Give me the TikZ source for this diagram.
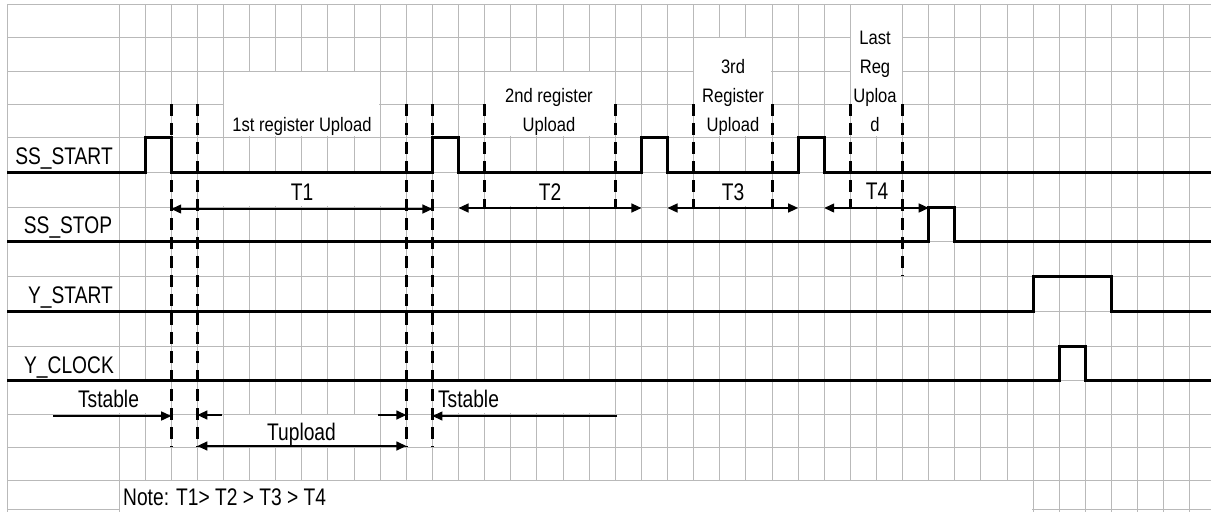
\documentclass[tikz,border=0pt]{standalone}
\usepackage{fontspec}
\usetikzlibrary{arrows.meta}
\newfontfamily\bigf{Liberation Sans}[FakeStretch=0.8]
\newfontfamily\smallf{Liberation Sans}[FakeStretch=0.85]
\definecolor{gridc}{RGB}{185,185,185}
\begin{document}
\begin{tikzpicture}[x=1pt,y=-1pt,
  gridline/.style={draw=gridc,line width=1pt},
  mask/.style={fill=white,draw=none},
  sig/.style={draw=black,line width=3pt,line join=miter,line cap=butt},
  dash3/.style={draw=black,line width=3pt,dash pattern=on 12pt off 7pt},
  dim/.style={draw=black,line width=1.4pt,-{Triangle[length=10pt,width=9pt]}},
  dimboth/.style={draw=black,line width=1.4pt,{Triangle[length=10pt,width=9pt]}-{Triangle[length=10pt,width=9pt]}},
  lab/.style={font=\bigf\fontsize{24}{28}\selectfont,inner sep=0pt,anchor=base},
  small/.style={font=\smallf\fontsize{19.5}{29}\selectfont,inner sep=0pt,anchor=base,align=center}]
\useasboundingbox[fill=white] (0,0) rectangle (1211,512);
% ---------- grid ----------
\foreach \y in {4,37,71,104,137,172,207,241,276,311,346,380,414,447,480,509}
  \draw[gridline] (7,\y) -- (1211,\y);
\draw[gridline] (7,4) -- (7,512);
\draw[gridline] (119,4) -- (119,512);
\foreach \k in {1,...,41}
  \draw[gridline] ({119+26.12*\k},4) -- ({119+26.12*\k},480);
\foreach \k in {35,...,41}
  \draw[gridline] ({119+26.12*\k},480) -- ({119+26.12*\k},512);
% ---------- merged cells ----------
\fill[mask] (224.3,71.8) rectangle (379.4,136.2);
\fill[mask] (485.5,71.8) rectangle (614.5,136.2);
\fill[mask] (694.4,37.8) rectangle (771.2,136.2);
\fill[mask] (851.2,4.8) rectangle (901.8,136.2);
\fill[mask] (198.2,172.8) rectangle (405.5,206.2);
\fill[mask] (485.5,172.8) rectangle (614.5,206.2);
\fill[mask] (694.4,172.8) rectangle (771.2,206.2);
\fill[mask] (851.2,172.8) rectangle (901.8,206.2);
\fill[mask] (7.8,380.8) rectangle (170.4,413.2);
\fill[mask] (224.3,414.8) rectangle (379.4,446.2);
\fill[mask] (433.3,380.8) rectangle (614.5,413.2);
\fill[mask] (119.8,480.8) rectangle (1032.4,512);
\fill[mask] (7.8,480.8) rectangle (118.2,508.2);
% ---------- labels ----------
\node[lab] (lss) at (64,164) {SS\_START};
\node[lab] (lsp) at (68,233) {SS\_STOP};
\node[lab] (lys) at (70.5,303) {Y\_START};
\node[lab] (lyc) at (69,373) {Y\_CLOCK};
\node[small] (u1) at (302,131) {1st register Upload};
\node[small] (u2) at (549,131) {2nd register\\Upload};
\node[small] (u3) at (733,131) {3rd\\Register\\Upload};
\node[small] (u4) at (875,131) {Last\\Reg\\Uploa\\d};
\node[lab] (t1) at (302,200) {T1};
\node[lab] (t2) at (550,200) {T2};
\node[lab] (t3) at (733,200) {T3};
\node[lab] (t4) at (877,199) {T4};
\node[lab] (ts1) at (108.5,407) {Tstable};
\node[lab] (tup) at (301.5,440) {Tupload};
\node[lab] (ts2) at (468.5,407) {Tstable};
\node[lab,anchor=base west] (note) at (123,505) {Note: T1> T2 > T3 > T4};
% ---------- signals ----------
\draw[sig] (7,172) -- (145.12,172) -- (145.12,137) -- (171.24,137) -- (171.24,172)
  -- (432.44,172) -- (432.44,137) -- (458.56,137) -- (458.56,172)
  -- (641.4,172) -- (641.4,137) -- (667.52,137) -- (667.52,172)
  -- (798.12,172) -- (798.12,137) -- (824.24,137) -- (824.24,172) -- (1211,172);
\draw[sig] (7,241) -- (928.72,241) -- (928.72,207) -- (954.84,207) -- (954.84,241) -- (1211,241);
\draw[sig] (7,311) -- (1033.2,311) -- (1033.2,276) -- (1111.56,276) -- (1111.56,311) -- (1211,311);
\draw[sig] (7,380) -- (1059.32,380) -- (1059.32,346) -- (1085.44,346) -- (1085.44,380) -- (1211,380);
% ---------- dashed markers ----------
\foreach \x in {171.24,197.36,406.32,432.44}
  \draw[dash3] (\x,104) -- (\x,447);
\foreach \x in {484.68,615.28,693.64,772,850.36}
  \draw[dash3] (\x,104) -- (\x,207);
\draw[dash3] (902.6,104) -- (902.6,276);
% ---------- dimension arrows ----------
\coordinate (a1l) at (171.24,209); \coordinate (a1r) at (432.44,209);
\coordinate (a2l) at (458.56,208); \coordinate (a2r) at (641.4,208);
\coordinate (a3l) at (667.52,208); \coordinate (a3r) at (798.12,208);
\coordinate (a4l) at (824.24,208); \coordinate (a4r) at (928.72,208);
\draw[dimboth] (a1l) -- (a1r);
\draw[dimboth] (a2l) -- (a2r);
\draw[dimboth] (a3l) -- (a3r);
\draw[dimboth] (a4l) -- (a4r);
\coordinate (s1a) at (53,416); \coordinate (s1b) at (171.24,416);
\draw[dim] (s1a) -- (s1b);
\coordinate (p1a) at (222,415); \coordinate (p1b) at (197.36,415);
\draw[dim] (p1a) -- (p1b);
\coordinate (p2a) at (378,415); \coordinate (p2b) at (406.32,415);
\draw[dim] (p2a) -- (p2b);
\coordinate (pl) at (197.36,446); \coordinate (pr) at (406.32,446);
\draw[dimboth] (pl) -- (pr);
\coordinate (s2a) at (617,416); \coordinate (s2b) at (432.44,416);
\draw[dim] (s2a) -- (s2b);
\end{tikzpicture}
\end{document}
